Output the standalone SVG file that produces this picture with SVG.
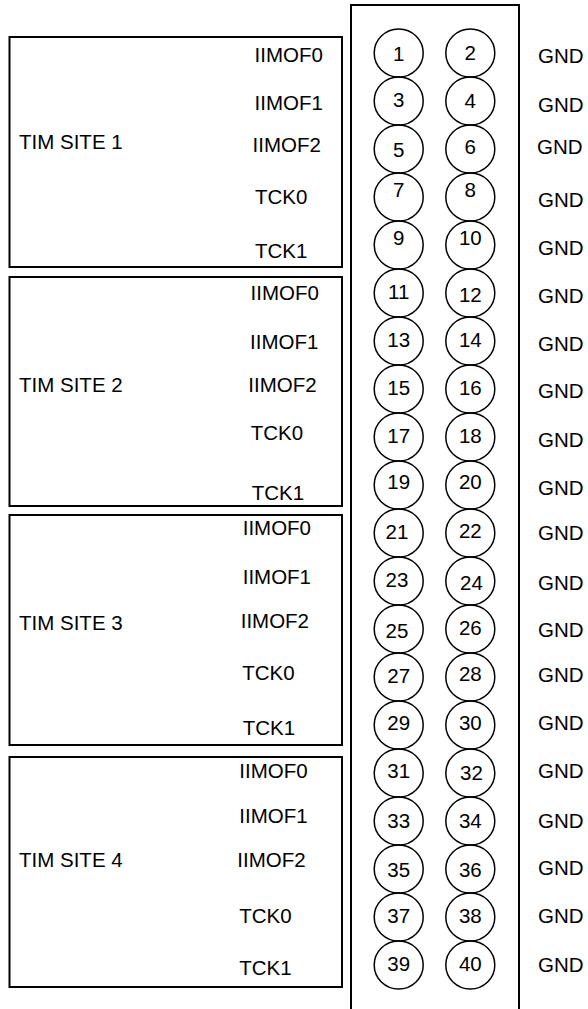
<svg xmlns="http://www.w3.org/2000/svg" width="588" height="1009" viewBox="0 0 588 1009">
<style>
text{font-family:"Liberation Sans",Arial,sans-serif;font-size:20.5px;fill:#000}
.n{text-anchor:middle}
.box{fill:none;stroke:#000;stroke-width:2}
.pin{fill:none;stroke:#000;stroke-width:1.5}
</style>
<rect width="588" height="1009" fill="#fff"/>
<g id="header">
<path class="box" d="M351,1009 V5 H519 V1009"/>
</g>
<g id="site1">
<rect class="box" x="9.5" y="37" width="332.5" height="230"/>
<text x="19" y="149">TIM SITE 1</text>
<text x="254.5" y="61.5">IIMOF0</text>
<text x="254.5" y="109.5">IIMOF1</text>
<text x="252.5" y="151.5">IIMOF2</text>
<text x="255" y="204">TCK0</text>
<text x="255" y="258">TCK1</text>
</g>
<g id="site2">
<rect class="box" x="9.5" y="277" width="332.5" height="229"/>
<text x="19" y="392">TIM SITE 2</text>
<text x="250.5" y="300">IIMOF0</text>
<text x="250" y="349">IIMOF1</text>
<text x="248.3" y="392">IIMOF2</text>
<text x="250.7" y="440">TCK0</text>
<text x="251.7" y="500">TCK1</text>
</g>
<g id="site3">
<rect class="box" x="9.5" y="515" width="332.5" height="230"/>
<text x="19" y="630">TIM SITE 3</text>
<text x="242.7" y="535">IIMOF0</text>
<text x="242.7" y="584">IIMOF1</text>
<text x="240.7" y="628">IIMOF2</text>
<text x="242.3" y="680">TCK0</text>
<text x="242.7" y="735">TCK1</text>
</g>
<g id="site4">
<rect class="box" x="9.5" y="757" width="332.5" height="230"/>
<text x="19" y="867">TIM SITE 4</text>
<text x="239.3" y="778">IIMOF0</text>
<text x="239.3" y="823">IIMOF1</text>
<text x="237.3" y="867">IIMOF2</text>
<text x="239.3" y="923">TCK0</text>
<text x="239.3" y="975">TCK1</text>
</g>
<g id="pins">
<g id="pin1"><ellipse class="pin" cx="398.7" cy="53" rx="24.5" ry="24"/><text class="n" x="398.7" y="61">1</text></g>
<g id="pin2"><ellipse class="pin" cx="470.3" cy="53" rx="24.5" ry="24"/><text class="n" x="470.3" y="60">2</text></g>
<g id="pin3"><ellipse class="pin" cx="398.7" cy="101" rx="24.5" ry="24"/><text class="n" x="398.7" y="106.7">3</text></g>
<g id="pin4"><ellipse class="pin" cx="470.3" cy="101" rx="24.5" ry="24"/><text class="n" x="470.3" y="108">4</text></g>
<g id="pin5"><ellipse class="pin" cx="398.7" cy="149" rx="24.5" ry="24"/><text class="n" x="398.7" y="156.7">5</text></g>
<g id="pin6"><ellipse class="pin" cx="470.3" cy="149" rx="24.5" ry="24"/><text class="n" x="470.3" y="154">6</text></g>
<g id="pin7"><ellipse class="pin" cx="398.7" cy="197" rx="24.5" ry="24"/><text class="n" x="398.7" y="196.7">7</text></g>
<g id="pin8"><ellipse class="pin" cx="470.3" cy="197" rx="24.5" ry="24"/><text class="n" x="470.3" y="196.7">8</text></g>
<g id="pin9"><ellipse class="pin" cx="398.7" cy="245" rx="24.5" ry="24"/><text class="n" x="398.7" y="245">9</text></g>
<g id="pin10"><ellipse class="pin" cx="470.3" cy="245" rx="24.5" ry="24"/><text class="n" x="470.3" y="245">10</text></g>
<g id="pin11"><ellipse class="pin" cx="398.7" cy="293" rx="24.5" ry="24"/><text class="n" x="398.7" y="299.3">11</text></g>
<g id="pin12"><ellipse class="pin" cx="470.3" cy="293" rx="24.5" ry="24"/><text class="n" x="470.3" y="301.7">12</text></g>
<g id="pin13"><ellipse class="pin" cx="398.7" cy="341" rx="24.5" ry="24"/><text class="n" x="398.7" y="347.3">13</text></g>
<g id="pin14"><ellipse class="pin" cx="470.3" cy="341" rx="24.5" ry="24"/><text class="n" x="470.3" y="347.3">14</text></g>
<g id="pin15"><ellipse class="pin" cx="398.7" cy="389" rx="24.5" ry="24"/><text class="n" x="398.7" y="395">15</text></g>
<g id="pin16"><ellipse class="pin" cx="470.3" cy="389" rx="24.5" ry="24"/><text class="n" x="470.3" y="395">16</text></g>
<g id="pin17"><ellipse class="pin" cx="398.7" cy="437" rx="24.5" ry="24"/><text class="n" x="398.7" y="443">17</text></g>
<g id="pin18"><ellipse class="pin" cx="470.3" cy="437" rx="24.5" ry="24"/><text class="n" x="470.3" y="443">18</text></g>
<g id="pin19"><ellipse class="pin" cx="398.7" cy="485" rx="24.5" ry="24"/><text class="n" x="398.7" y="489.3">19</text></g>
<g id="pin20"><ellipse class="pin" cx="470.3" cy="485" rx="24.5" ry="24"/><text class="n" x="470.3" y="489.3">20</text></g>
<g id="pin21"><ellipse class="pin" cx="398.7" cy="533" rx="24.5" ry="24"/><text class="n" x="397" y="539.3">21</text></g>
<g id="pin22"><ellipse class="pin" cx="470.3" cy="533" rx="24.5" ry="24"/><text class="n" x="470.3" y="537.7">22</text></g>
<g id="pin23"><ellipse class="pin" cx="398.7" cy="581" rx="24.5" ry="24"/><text class="n" x="397" y="586.7">23</text></g>
<g id="pin24"><ellipse class="pin" cx="470.3" cy="581" rx="24.5" ry="24"/><text class="n" x="471.5" y="590">24</text></g>
<g id="pin25"><ellipse class="pin" cx="398.7" cy="629" rx="24.5" ry="24"/><text class="n" x="397" y="638">25</text></g>
<g id="pin26"><ellipse class="pin" cx="470.3" cy="629" rx="24.5" ry="24"/><text class="n" x="470.3" y="635">26</text></g>
<g id="pin27"><ellipse class="pin" cx="398.7" cy="677" rx="24.5" ry="24"/><text class="n" x="398.7" y="683">27</text></g>
<g id="pin28"><ellipse class="pin" cx="470.3" cy="677" rx="24.5" ry="24"/><text class="n" x="470.3" y="680.5">28</text></g>
<g id="pin29"><ellipse class="pin" cx="398.7" cy="725" rx="24.5" ry="24"/><text class="n" x="398.7" y="730">29</text></g>
<g id="pin30"><ellipse class="pin" cx="470.3" cy="725" rx="24.5" ry="24"/><text class="n" x="470.3" y="730">30</text></g>
<g id="pin31"><ellipse class="pin" cx="398.7" cy="773" rx="24.5" ry="24"/><text class="n" x="398.7" y="778">31</text></g>
<g id="pin32"><ellipse class="pin" cx="470.3" cy="773" rx="24.5" ry="24"/><text class="n" x="471.5" y="780">32</text></g>
<g id="pin33"><ellipse class="pin" cx="398.7" cy="821" rx="24.5" ry="24"/><text class="n" x="398.7" y="828">33</text></g>
<g id="pin34"><ellipse class="pin" cx="470.3" cy="821" rx="24.5" ry="24"/><text class="n" x="470.3" y="828">34</text></g>
<g id="pin35"><ellipse class="pin" cx="398.7" cy="869" rx="24.5" ry="24"/><text class="n" x="398.7" y="876.7">35</text></g>
<g id="pin36"><ellipse class="pin" cx="470.3" cy="869" rx="24.5" ry="24"/><text class="n" x="470.3" y="876.7">36</text></g>
<g id="pin37"><ellipse class="pin" cx="398.7" cy="917" rx="24.5" ry="24"/><text class="n" x="398.7" y="923">37</text></g>
<g id="pin38"><ellipse class="pin" cx="470.3" cy="917" rx="24.5" ry="24"/><text class="n" x="470.3" y="923">38</text></g>
<g id="pin39"><ellipse class="pin" cx="398.7" cy="965" rx="24.5" ry="24"/><text class="n" x="398.7" y="971">39</text></g>
<g id="pin40"><ellipse class="pin" cx="470.3" cy="965" rx="24.5" ry="24"/><text class="n" x="470.3" y="971">40</text></g>
</g>
<g id="gnd">
<text x="538" y="63.3">GND</text>
<text x="538" y="111.7">GND</text>
<text x="537" y="154">GND</text>
<text x="538" y="206.7">GND</text>
<text x="538" y="255">GND</text>
<text x="538" y="303.3">GND</text>
<text x="538" y="350.7">GND</text>
<text x="538" y="398.3">GND</text>
<text x="538" y="446.7">GND</text>
<text x="538" y="495">GND</text>
<text x="538" y="540">GND</text>
<text x="538" y="590">GND</text>
<text x="538" y="636.7">GND</text>
<text x="538" y="681.7">GND</text>
<text x="538" y="730">GND</text>
<text x="538" y="778.3">GND</text>
<text x="538" y="828.3">GND</text>
<text x="538" y="875">GND</text>
<text x="538" y="923.3">GND</text>
<text x="538" y="971.7">GND</text>
</g>
<g id="connectors"></g>
</svg>
